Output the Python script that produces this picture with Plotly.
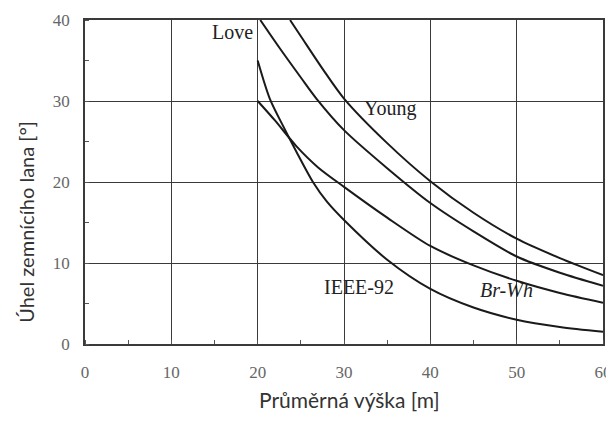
import plotly.graph_objects as go

# Data
young_x = [23.75, 25, 27.5, 30, 35, 40, 45, 50, 55, 60]
young_y = [40, 38.0, 34.0, 30.3, 24.8, 20.1, 16.2, 13.0, 10.6, 8.5]

love_x = [20.3, 22.5, 25, 26.8, 30, 35, 40, 45, 50, 55, 60]
love_y = [40, 36.6, 32.9, 30.3, 26.4, 21.7, 17.4, 13.9, 10.8, 8.8, 7.2]

brwh_x = [20, 22, 24.5, 27, 30, 35, 40, 45, 50, 55, 60]
brwh_y = [30, 27.6, 24.4, 21.8, 19.4, 15.6, 12.1, 9.7, 7.8, 6.3, 5.1]

ieee_x = [20, 21.4, 23, 24.5, 26.4, 28, 30, 35, 40, 45, 50, 55, 60]
ieee_y = [35, 30.3, 26.8, 23.7, 20.0, 17.6, 15.3, 10.4, 6.8, 4.5, 3.0, 2.1, 1.5]

x_ticks = [0, 10, 20, 30, 40, 50, 60]
y_ticks = [0, 10, 20, 30, 40]

x_title = "Průměrná výška [m]"
y_title = "Úhel zemnícího lana [°]"

fig = go.Figure()
for xs, ys in [(young_x, young_y), (love_x, love_y), (brwh_x, brwh_y), (ieee_x, ieee_y)]:
    fig.add_trace(go.Scatter(x=xs, y=ys, mode="lines",
                             line=dict(color="#1a1a1a", width=2, shape="spline", smoothing=0.8),
                             showlegend=False, hoverinfo="skip"))

serif = "Liberation Serif"
ann_font = dict(family=serif, size=20, color="#222")
fig.add_annotation(x=19.7, y=38.5, text="Love", showarrow=False, xanchor="right", yanchor="middle", font=ann_font)
fig.add_annotation(x=32.1, y=29.1, text="Young", showarrow=False, xanchor="left", yanchor="middle", font=ann_font)
fig.add_annotation(x=27.5, y=7.0, text="IEEE-92", showarrow=False, xanchor="left", yanchor="middle", font=ann_font)
fig.add_annotation(x=45.5, y=6.7, text="<i>Br-Wh</i>", showarrow=False, xanchor="left", yanchor="middle", font=ann_font)

# Axis titles (paper coordinates)
fig.add_annotation(xref="paper", yref="paper", x=0.51, y=-0.172, text=x_title, showarrow=False,
                   xanchor="center", yanchor="middle", font=dict(family="Lato", size=21, color="#333"))
fig.add_annotation(xref="paper", yref="paper", x=-0.114, y=0.377, text=y_title, showarrow=False, textangle=-90,
                   xanchor="center", yanchor="middle", font=dict(family="Lato", size=20, color="#333"))

axis_common = dict(showgrid=True, gridcolor="#3a3a3a", gridwidth=1.3,
                   showline=True, linecolor="#3a3a3a", linewidth=1.5, mirror=True,
                   zeroline=False, ticks="", automargin=False,
                   tickfont=dict(family=serif, size=17, color="#666"),
                   minor=dict(dtick=5, ticks="inside", ticklen=4, tickcolor="#555", tickwidth=1.2, showgrid=False))

fig.update_xaxes(range=[0, 60], tickvals=x_ticks, ticktext=[str(v) for v in x_ticks],
                 ticklabelstandoff=12, **axis_common)
fig.update_yaxes(range=[0, 40], tickvals=y_ticks, ticktext=[str(v) for v in y_ticks],
                 ticklabelstandoff=10, **axis_common)

# The page body adds an 8px offset, so the figure is sized to fill the rest of the window
fig.update_layout(width=606, height=413, margin=dict(l=77, r=11, t=12, b=77),
                  plot_bgcolor="white", paper_bgcolor="white")

fig.write_html("out.html")
